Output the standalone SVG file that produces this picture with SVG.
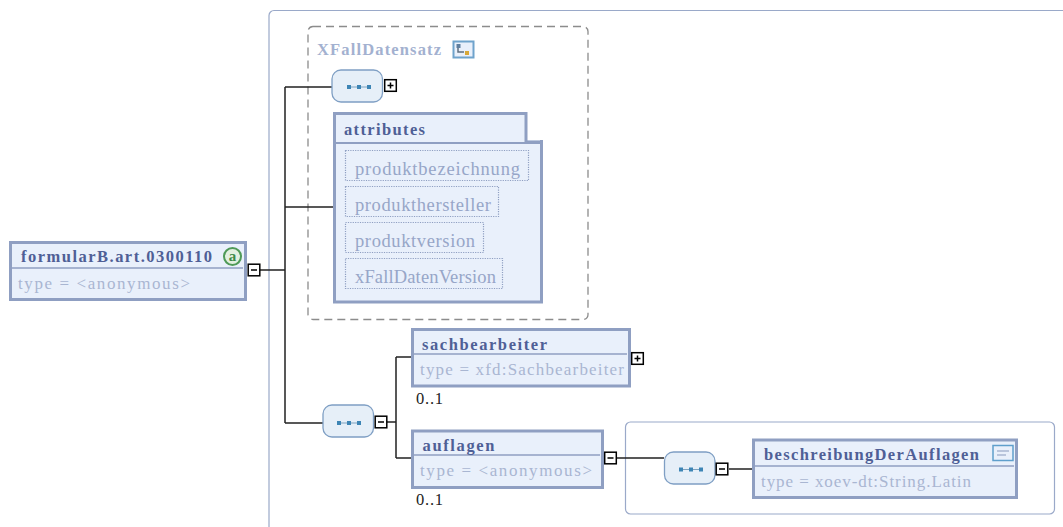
<svg xmlns="http://www.w3.org/2000/svg" width="1063" height="527" viewBox="0 0 1063 527">
<style>
text{font-family:"Liberation Serif","Times New Roman",serif}
.n{fill:#e9f0fb;stroke:#8f9fc2;stroke-width:3}
.sep{stroke:#8f9fc2;stroke-width:1.5;fill:none}
.t{font-size:16.5px;font-weight:bold;fill:#4f5f96}
.s{font-size:17px;fill:#a9b6d2}
.a{font-size:18.500px;fill:#97a6c8}
.m{font-size:16.500px;fill:#222}
.c{fill:none;stroke:#222;stroke-width:1.5}
.tg{fill:#fff;stroke:#000;stroke-width:1.5}
.sg{stroke:#000;stroke-width:1.5}
.seq{fill:#e6eff8;stroke:#7f9fc4;stroke-width:1.3}
.d{fill:none;stroke:#8f9fc2;stroke-width:1.200;stroke-dasharray:1.200 1.200}
.q{fill:#3d85b5}
.ql{stroke:#7fa3bf;stroke-width:1}
</style>
<defs>
<g id="dots"><path class="ql" d="M-11 0H11"/><rect class="q" x="-12" y="-2" width="4" height="4"/><rect class="q" x="-2" y="-2" width="4" height="4"/><rect class="q" x="8" y="-2" width="4" height="4"/></g>
<g id="minus"><rect class="tg" x="0.700" y="0.700" width="11.600" height="11.600"/><path class="sg" d="M3.500 6.500H9.500"/></g>
<g id="plus"><rect class="tg" x="0.700" y="0.700" width="11.600" height="11.600"/><path class="sg" d="M3.500 6.500H9.500M6.500 3.500V9.500"/></g>
</defs>
<g id="containers">
<path d="M1064 10.500H274a5 5 0 0 0-5 5V528" fill="none" stroke="#9aa9c9" stroke-width="1.200"/>
<rect x="308" y="26.500" width="280" height="293" rx="5" fill="none" stroke="#8c8c8c" stroke-width="1.300" stroke-dasharray="8 5"/>
<rect x="625.500" y="422" width="429" height="92" rx="5" fill="none" stroke="#9aa9c9" stroke-width="1.200"/>
</g>
<g id="connectors">
<path class="c" d="M260 270H285M285 87V423M285 87H332M285 207H333M285 423H323"/>
<path class="c" d="M387 422H396M396 357V458M396 357H412M396 458H412"/>
<path class="c" d="M617 458H664M729 469H752"/>
</g>
<g id="formular">
<rect class="n" x="10.500" y="242.500" width="235" height="57"/>
<path class="sep" d="M12 268H243"/>
<text class="t" x="21" y="262" textLength="191">formularB.art.0300110</text>
<text class="s" x="18" y="289" textLength="172">type = &lt;anonymous&gt;</text>
<circle cx="232.500" cy="256.500" r="8.500" fill="#e2f0e0" stroke="#4f9a58" stroke-width="2"/>
<text x="232.500" y="261" font-size="15" font-weight="bold" fill="#3d8a48" text-anchor="middle">a</text>
<use href="#minus" x="247.500" y="263.500"/>
</g>
<g id="XFallDatensatz">
<text x="317" y="55" font-size="16.500" font-weight="bold" fill="#a3b1d0" textLength="124">XFallDatensatz</text>
<rect x="453.500" y="41.500" width="20" height="16" fill="#e9f0fb" stroke="#6fa3cc" stroke-width="2"/>
<path d="M458 45V52H464" fill="none" stroke="#5f6f80" stroke-width="1.500"/>
<rect x="456.500" y="44" width="4" height="4" fill="#5f7f9f"/>
<rect x="465" y="51" width="4" height="4" fill="#d8a838"/>
</g>
<g id="seq1">
<rect class="seq" x="332" y="70" width="50.500" height="32" rx="9"/>
<use href="#dots" x="359" y="87"/>
<use href="#plus" x="384" y="79"/>
</g>
<g id="attributes">
<rect class="n" x="334.500" y="113.500" width="207" height="188.500"/>
<rect x="527" y="111" width="17" height="29" fill="#fff"/>
<path d="M334 143H543" fill="none" stroke="#8f9fc2" stroke-width="2"/>
<path d="M526 112V142H543" fill="none" stroke="#8f9fc2" stroke-width="3"/>
<text class="t" x="344" y="135" textLength="81">attributes</text>
<rect class="d" x="345.500" y="150.500" width="183" height="30"/>
<text class="a" x="355" y="175" textLength="165">produktbezeichnung</text>
<rect class="d" x="345.500" y="186.500" width="153" height="30"/>
<text class="a" x="355" y="211" textLength="136">produkthersteller</text>
<rect class="d" x="345.500" y="222.500" width="138" height="30"/>
<text class="a" x="355" y="247" textLength="120">produktversion</text>
<rect class="d" x="345.500" y="258.500" width="157" height="30"/>
<text class="a" x="355" y="283" textLength="141">xFallDatenVersion</text>
</g>
<g id="seq2">
<rect class="seq" x="323" y="405" width="50.500" height="32" rx="9"/>
<use href="#dots" x="349" y="423"/>
<use href="#minus" x="374.500" y="415.500"/>
</g>
<g id="sachbearbeiter">
<rect class="n" x="412.500" y="329.500" width="217" height="56.500"/>
<path class="sep" d="M414 354H627"/>
<text class="t" x="422" y="350" textLength="125">sachbearbeiter</text>
<text class="s" x="420" y="375" textLength="204">type = xfd:Sachbearbeiter</text>
<text class="m" x="416" y="404" textLength="27">0..1</text>
<use href="#plus" x="631" y="352"/>
</g>
<g id="auflagen">
<rect class="n" x="412.500" y="431" width="190" height="56.500"/>
<path class="sep" d="M414 455H600"/>
<text class="t" x="422.500" y="451" textLength="72">auflagen</text>
<text class="s" x="420" y="476" textLength="172">type = &lt;anonymous&gt;</text>
<text class="m" x="416" y="505" textLength="27">0..1</text>
<use href="#minus" x="604" y="451.500"/>
</g>
<g id="seq3">
<rect class="seq" x="664.500" y="452" width="50.500" height="32" rx="9"/>
<use href="#dots" x="691" y="469.500"/>
<use href="#minus" x="715.500" y="462.500"/>
</g>
<g id="beschreibungDerAuflagen">
<rect class="n" x="753.500" y="440" width="263" height="57.500"/>
<path class="sep" d="M755 466H1014"/>
<text class="t" x="764" y="460" textLength="215">beschreibungDerAuflagen</text>
<text class="s" x="761" y="487" textLength="210">type = xoev-dt:String.Latin</text>
<rect x="993" y="445.500" width="20" height="15" fill="#e9f0fb" stroke="#5f9fcc" stroke-width="1.500"/>
<path d="M997 451H1009M997 455H1006" stroke="#a9b6d2" stroke-width="1.500" fill="none"/>
</g>
</svg>
